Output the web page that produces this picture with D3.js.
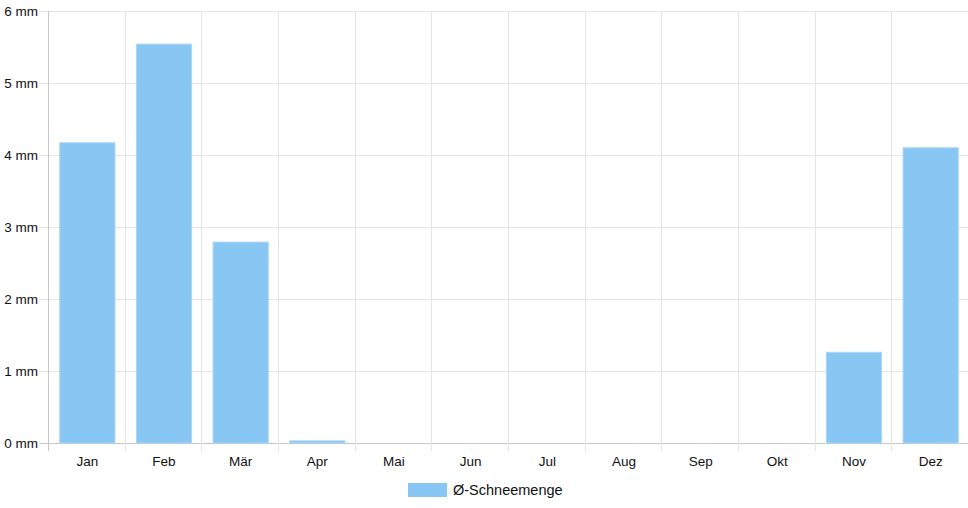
<!DOCTYPE html>
<html>
<head>
<meta charset="utf-8">
<script src="https://cdn.jsdelivr.net/npm/d3@7"></script>
<style>
  body { margin: 0; background: #fff; }
  svg { display: block; font-family: "Liberation Sans", Arial, sans-serif; }
</style>
</head>
<body>
<svg></svg>
<script>
const WIDTH = 968;
const HEIGHT = 508;
const MARGINS = { left: 48, top: 11, right: 0, bottom: 65 };
const graphWidth = WIDTH - MARGINS.left - MARGINS.right;
const graphHeight = HEIGHT - MARGINS.top - MARGINS.bottom;

const months = ['Jan', 'Feb', 'Mär', 'Apr', 'Mai', 'Jun', 'Jul', 'Aug', 'Sep', 'Okt', 'Nov', 'Dez'];
const snow = [4.17, 5.54, 2.79, 0.03, 0, 0, 0, 0, 0, 0, 1.26, 4.1];
const yTicks = [0, 1, 2, 3, 4, 5, 6];
const seriesName = 'Ø-Schneemenge';
const BAR_COLOR = '#88c6f3';
const GRID = '#e5e5e5';

const svg = d3.select('svg').attr('width', WIDTH).attr('height', HEIGHT);
const graph = svg.append('g').attr('transform', `translate(${MARGINS.left}, ${MARGINS.top})`);

const x = d3.scaleBand().domain(months).range([0, graphWidth]);
const y = d3.scaleLinear().domain([0, 6]).range([graphHeight, 0]);

// horizontal grid + left ticks
graph.append('g')
  .selectAll('line')
  .data(yTicks)
  .enter()
  .append('line')
  .attr('x1', -8)
  .attr('x2', graphWidth)
  .attr('y1', (d) => Math.round(y(d)) + 0.5)
  .attr('y2', (d) => Math.round(y(d)) + 0.5)
  .attr('stroke', (d) => (d === 0 ? '#c8c8c8' : GRID));

// vertical grid lines at category boundaries
graph.append('g')
  .selectAll('line')
  .data(months)
  .enter()
  .append('line')
  .attr('x1', (d) => Math.round(x(d)) + 0.5)
  .attr('x2', (d) => Math.round(x(d)) + 0.5)
  .attr('y1', 0)
  .attr('y2', graphHeight + 8)
  .attr('stroke', (d, i) => (i === 0 ? '#c8c8c8' : GRID));

// y labels
graph.append('g')
  .selectAll('text')
  .data(yTicks)
  .enter()
  .append('text')
  .attr('x', -10)
  .attr('y', (d) => y(d) + 4.5)
  .attr('text-anchor', 'end')
  .attr('font-size', 13.5)
  .attr('fill', '#111')
  .text((d) => d + ' mm');

// x labels
graph.append('g')
  .selectAll('text')
  .data(months)
  .enter()
  .append('text')
  .attr('x', (d) => x(d) + x.bandwidth() / 2 + 1)
  .attr('y', graphHeight + 23)
  .attr('text-anchor', 'middle')
  .attr('font-size', 13.5)
  .attr('fill', '#111')
  .text((d) => d);

// bars
const barW = x.bandwidth() * 0.72;
graph.append('g')
  .selectAll('rect')
  .data(snow)
  .enter()
  .append('rect')
  .attr('x', (d, i) => x(months[i]) + (x.bandwidth() - barW) / 2 + 1)
  .attr('y', (d) => y(d))
  .attr('width', barW)
  .attr('height', (d) => graphHeight - y(d))
  .attr('fill', BAR_COLOR)
  .attr('stroke', '#a9d6f6')
  .attr('stroke-width', 1);

// legend
const legend = svg.append('g').attr('transform', 'translate(408, 483)');
legend.append('rect')
  .attr('width', 39)
  .attr('height', 14)
  .attr('fill', BAR_COLOR);
legend.append('text')
  .attr('x', 45)
  .attr('y', 12)
  .attr('font-size', 14.5)
  .attr('fill', '#111')
  .text(seriesName);
</script>
</body>
</html>
